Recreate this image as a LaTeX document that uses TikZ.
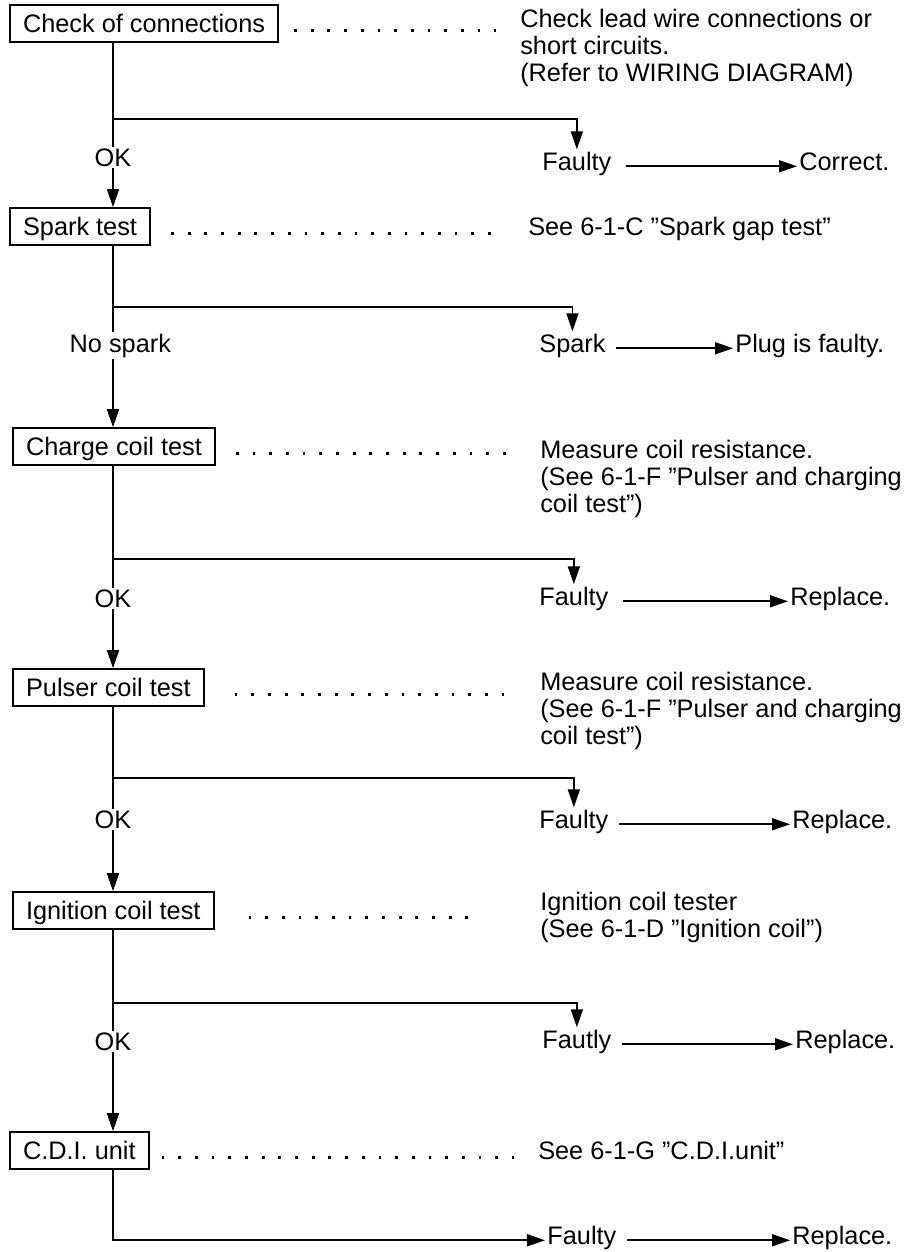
\documentclass[tikz,border=0pt]{standalone}
\usepackage{fontspec}
\setmainfont{Liberation Sans}
\usetikzlibrary{arrows.meta,calc}

\newcommand{\infolines}[1]{\begin{tabular}[t]{@{}l@{}}#1\end{tabular}}

\begin{document}
\begin{tikzpicture}[x=0.025cm,y=-0.025cm,font=\fontsize{18}{19.2}\selectfont]
        \tikzset{stepbox/.style={draw, line width=1.2pt, anchor=base west, inner xsep=0.33cm, inner ysep=0.1cm, text height=0.575cm, text depth=0.15cm},
                 info/.style={anchor=base west, inner sep=0pt},
                 note/.style={anchor=base west, inner sep=1.5pt},
                 oklabel/.style={anchor=base, inner sep=1pt},
                 wire/.style={line width=1.2pt},
                 flow/.style={line width=1.2pt, -{Triangle[length=0.45cm, width=0.3cm]}},
                 leader/.style={line width=0.07cm, dash pattern=on 0.07cm off 0.347cm}}
        \useasboundingbox (0,0) rectangle (903,1252);
        \coordinate (trunk) at (113,0);

        % check of connections
        \node[stepbox] (chk) at (9,32) {Check of connections};
        \node[info] (chkinfo) at (520,27) {\infolines{Check lead wire connections or\\short circuits.\\(Refer to WIRING DIAGRAM)}};
        \draw[leader] ([xshift=0.375cm, yshift=0.04cm]chk.base east) -- ([xshift=-0.6cm, yshift=0.04cm]chk.base east -| chkinfo.west);
        \coordinate (br1) at (113,119);
        \node[oklabel] (ok1) at (113,166) {OK};
        \node[note] (flt1) at (540,170) {Faulty};
        \node[note] (fix1) at (797,170) {Correct.};
        \draw[wire] (chk.south -| trunk) -- (ok1.north);
        \draw[flow] (br1) -| (flt1.north);
        \draw[flow] ([xshift=0.3cm]flt1.mid east) -- (fix1.mid west);

        % spark test
        \node[stepbox] (spk) at (9,235) {Spark test};
        \node[info] (spkinfo) at (528,235) {See 6-1-C ''Spark gap test''};
        \draw[leader] ([xshift=0.5cm, yshift=0.04cm]spk.base east) -- ([xshift=-0.6cm, yshift=0.04cm]spk.base east -| spkinfo.west);
        \coordinate (br2) at (113,307);
        \node[oklabel, anchor=base west] (nospk) at (68,352) {No spark};
        \node[note] (spark) at (537,352) {Spark};
        \node[note] (plug) at (733,352) {Plug is faulty.};
        \draw[wire] (spk.south -| trunk) -- (nospk.north -| trunk);
        \draw[flow] (br2) -| (spark.north);
        \draw[flow] ([xshift=0.2cm]spark.mid east) -- (plug.mid west);

        % charge coil test
        \node[stepbox] (chg) at (12,455) {Charge coil test};
        \node[info] (chginfo) at (540,458) {\infolines{Measure coil resistance.\\(See 6-1-F ''Pulser and charging\\coil test'')}};
        \draw[leader] ([xshift=0.5cm, yshift=0.04cm]chg.base east) -- ([xshift=-0.8cm, yshift=0.04cm]chg.base east -| chginfo.west);
        \coordinate (br3) at (113,559);
        \node[oklabel] (ok3) at (113,607) {OK};
        \node[note] (flt3) at (537,605) {Faulty};
        \node[note] (fix3) at (788,605) {Replace.};
        \draw[wire] (chg.south -| trunk) -- (ok3.north);
        \draw[flow] (br3) -| (flt3.north);
        \draw[flow] ([xshift=0.3cm]flt3.mid east) -- (fix3.mid west);

        % pulser coil test
        \node[stepbox] (pls) at (12,696) {Pulser coil test};
        \node[info] (plsinfo) at (540,690) {\infolines{Measure coil resistance.\\(See 6-1-F ''Pulser and charging\\coil test'')}};
        \draw[leader] ([xshift=0.75cm, yshift=0.04cm]pls.base east) -- ([xshift=-0.7cm, yshift=0.04cm]pls.base east -| plsinfo.west);
        \coordinate (br4) at (113,778);
        \node[oklabel] (ok4) at (113,828) {OK};
        \node[note] (flt4) at (537,828) {Faulty};
        \node[note] (fix4) at (790,828) {Replace.};
        \draw[wire] (pls.south -| trunk) -- (ok4.north);
        \draw[flow] (br4) -| (flt4.north);
        \draw[flow] ([xshift=0.2cm]flt4.mid east) -- (fix4.mid west);

        % ignition coil test
        \node[stepbox] (ign) at (12,919) {Ignition coil test};
        \node[info] (igninfo) at (540,910) {\infolines{Ignition coil tester\\(See 6-1-D ''Ignition coil'')}};
        \draw[leader] ([xshift=0.85cm, yshift=0.04cm]ign.base east) -- ([xshift=-1.5cm, yshift=0.04cm]ign.base east -| igninfo.west);
        \coordinate (br5) at (113,1003);
        \node[oklabel] (ok5) at (113,1050) {OK};
        \node[note] (flt5) at (540,1048) {Fautly};
        \node[note] (fix5) at (793,1048) {Replace.};
        \draw[wire] (ign.south -| trunk) -- (ok5.north);
        \draw[flow] (br5) -| (flt5.north);
        \draw[flow] ([xshift=0.2cm]flt5.mid east) -- (fix5.mid west);

        % c.d.i. unit
        \node[stepbox] (cdi) at (9,1159) {C.D.I. unit};
        \node[info] (cdiinfo) at (538,1159) {See 6-1-G ''C.D.I.unit''};
        \draw[leader] ([xshift=0.3cm, yshift=0.04cm]cdi.base east) -- ([xshift=-0.6cm, yshift=0.04cm]cdi.base east -| cdiinfo.west);
        \node[note] (flt6) at (545,1244) {Faulty};
        \node[note] (fix6) at (790,1244) {Replace.};
        \draw[flow] (cdi.south -| trunk) |- (flt6.mid west);
        \draw[flow] ([xshift=0.2cm]flt6.mid east) -- (fix6.mid west);

        % trunk arrows into the next test
        \draw[flow] (ok1.south) -- (spk.north -| trunk);
        \draw[flow] (nospk.south -| trunk) -- (chg.north -| trunk);
        \draw[flow] (ok3.south) -- (pls.north -| trunk);
        \draw[flow] (ok4.south) -- (ign.north -| trunk);
        \draw[flow] (ok5.south) -- (cdi.north -| trunk);
\end{tikzpicture}
\end{document}
